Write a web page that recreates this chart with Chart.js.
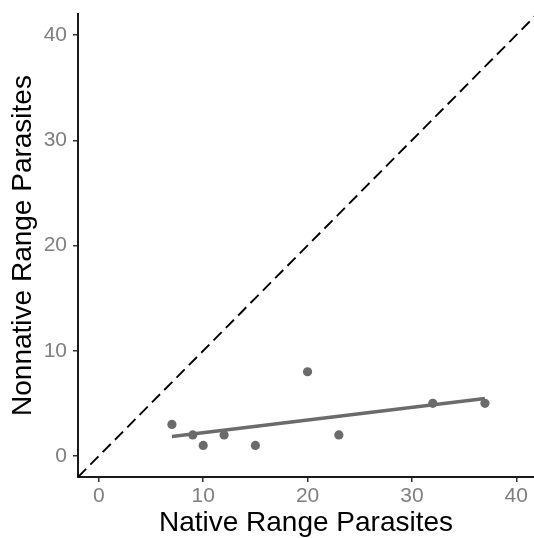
<!DOCTYPE html>
<html>
<head>
<meta charset="utf-8">
<script src="https://cdn.jsdelivr.net/npm/chart.js@4/dist/chart.umd.min.js"></script>
<style>
  html, body { margin: 0; padding: 0; background: #ffffff; overflow: hidden; }
  #wrap { width: 534px; height: 538px; position: relative; }
  canvas { display: block; }
</style>
</head>
<body>
<div id="wrap"><canvas id="c" width="534" height="538"></canvas></div>
<script>
// Data
const nativeParasites    = [7, 9, 10, 12, 15, 20, 23, 32, 37];
const nonnativeParasites = [3, 2, 1, 2, 1, 8, 2, 5, 5];
// Fitted trend line end points
const fitX = [7, 37];
const fitY = [1.85, 5.46];
// 1:1 reference line end points
const refX = [-2, 42];
const refY = [-2, 42];
// Tick labels
const xTicks = [0, 10, 20, 30, 40];
const yTicks = [0, 10, 20, 30, 40];
const xTitle = 'Native Range Parasites';
const yTitle = 'Nonnative Range Parasites';

const toPts = (xs, ys) => xs.map((x, i) => ({ x: x, y: ys[i] }));
const FONT = "'Liberation Sans', Arial, Helvetica, sans-serif";

new Chart(document.getElementById('c'), {
  type: 'scatter',
  data: {
    datasets: [
      {
        label: 'fit',
        type: 'line',
        data: toPts(fitX, fitY),
        borderColor: '#6b6b6b',
        borderWidth: 3.5,
        borderCapStyle: 'butt',
        pointRadius: 0,
        fill: false,
        order: 1
      },
      {
        label: 'points',
        data: toPts(nativeParasites, nonnativeParasites),
        backgroundColor: '#6b6b6b',
        borderWidth: 0,
        pointRadius: 4.6,
        order: 2
      },
      {
        label: '1:1',
        type: 'line',
        data: toPts(refX, refY),
        borderColor: '#000000',
        borderWidth: 1.9,
        borderDash: [11.5, 6],
        borderCapStyle: 'butt',
        pointRadius: 0,
        fill: false,
        order: 3
      }
    ]
  },
  options: {
    responsive: false,
    animation: false,
    devicePixelRatio: 1,
    layout: { autoPadding: false, padding: { left: 0, right: 0, top: 14, bottom: 0 } },
    plugins: { legend: { display: false }, tooltip: { enabled: false } },
    scales: {
      x: {
        type: 'linear',
        min: -2,
        max: 41.7,
        afterBuildTicks: (axis) => { axis.ticks = xTicks.map(v => ({ value: v })); },
        afterFit: (scale) => { scale.height = 61; scale.paddingLeft = 0; scale.paddingRight = 0; },
        grid: { drawOnChartArea: false, drawTicks: true, tickLength: 5, color: '#333333', lineWidth: 1.5 },
        border: { display: true, color: '#1a1a1a', width: 2 },
        ticks: { color: '#7f7f7f', font: { family: FONT, size: 21, lineHeight: 1.2 }, padding: 1.5, maxRotation: 0 },
        title: { display: true, text: xTitle, color: '#000000', font: { family: FONT, size: 28, lineHeight: 1 }, padding: { top: 0, bottom: 1 } }
      },
      y: {
        type: 'linear',
        min: -2,
        max: 42,
        afterBuildTicks: (axis) => { axis.ticks = yTicks.map(v => ({ value: v })); },
        afterFit: (scale) => { scale.width = 78; scale.paddingTop = 0; scale.paddingBottom = 0; },
        grid: { drawOnChartArea: false, drawTicks: true, tickLength: 5, color: '#333333', lineWidth: 1.5 },
        border: { display: true, color: '#1a1a1a', width: 2 },
        ticks: { color: '#7f7f7f', font: { family: FONT, size: 21, lineHeight: 1.2 }, padding: 6 },
        title: { display: true, text: yTitle, color: '#000000', font: { family: FONT, size: 28, lineHeight: 1 }, padding: { top: 9, bottom: 0 } }
      }
    }
  }
});
</script>
</body>
</html>
